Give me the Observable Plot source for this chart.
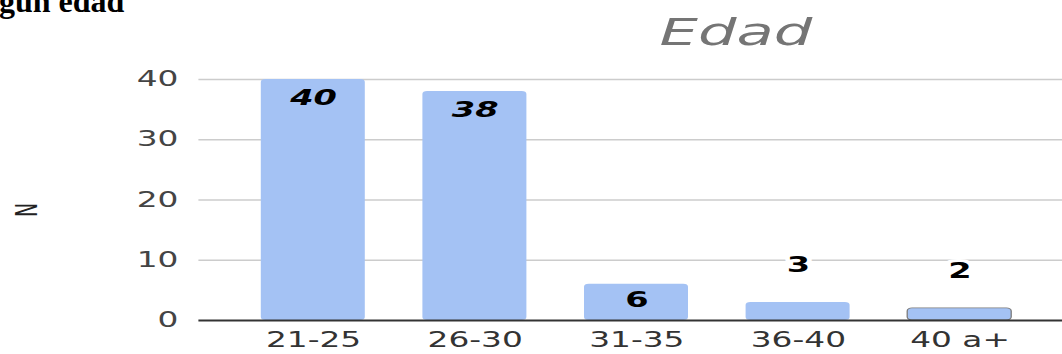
<!DOCTYPE html>
<html>
<head>
<meta charset="utf-8">
<script src="https://cdn.jsdelivr.net/npm/d3@7"></script>
<script src="https://cdn.jsdelivr.net/npm/@observablehq/plot@0.6"></script>
<style>
  html, body { margin: 0; padding: 0; background: #fff; }
  #frame { position: relative; width: 1062px; height: 354px; overflow: hidden; }
  /* the chart is laid out at a narrower width and stretched horizontally */
  #wide { position: absolute; left: 0; top: 0; width: 664px; height: 354px;
          transform: scaleX(1.6); transform-origin: 0 0; }
  #heading { position: absolute; left: -33px; top: -15px; white-space: nowrap;
             font: bold 32px/32px "Liberation Serif", "Times New Roman", serif; color: #000; }
  #title { position: absolute; left: 360px; width: 200px; top: 13px; text-align: center;
           font: oblique 38px/38px "DejaVu Sans", sans-serif; color: #757575; }
  #chart { position: absolute; left: 0; top: 60px; }
</style>
</head>
<body>
<div id="frame">
  <div id="heading">Según edad</div>
  <div id="wide">
    <div id="title">Edad</div>
    <div id="chart"></div>
  </div>
</div>
<script>
// Age groups and number of respondents in each
const grupos = ["21-25", "26-30", "31-35", "36-40", "40 a+"];
const conteos = [40, 38, 6, 3, 2];
const ticksY = [0, 10, 20, 30, 40];

const datos = grupos.map((g, i) => ({edad: g, n: conteos[i]}));
const barColor = "#a4c2f4";
const font = "DejaVu Sans, sans-serif";

const chart = Plot.plot({
  width: 664,
  height: 294,
  marginLeft: 124,
  marginRight: 0,
  marginTop: 19,
  marginBottom: 34,
  style: {fontFamily: font, background: "transparent", overflow: "visible"},
  x: {domain: grupos, range: [124, 670.6], paddingInner: 0.356, paddingOuter: 0.36, label: null},
  y: {domain: [0, 40], label: null},
  marks: [
    Plot.ruleY(ticksY.filter(t => t > 0), {stroke: "#cccccc", strokeWidth: 1.5}),
    Plot.barY(datos, {x: "edad", y: "n", fill: barColor, rx: 3}),
    Plot.barY(datos.filter(d => d.edad === "40 a+"), {x: "edad", y: "n", fill: "none", stroke: "#7a7a7a", strokeWidth: 0.8, rx: 3}),
    Plot.ruleY([0], {stroke: "#333", strokeWidth: 2}),
    Plot.axisY({ticks: ticksY, tickSize: 0, tickPadding: 13, fontSize: 20.5, color: "#444", label: null}),
    Plot.axisX({tickSize: 0, tickPadding: 12, fontSize: 20.5, color: "#333", label: null}),
    // values inside the tall bars
    Plot.text(datos.filter(d => d.n >= 10), {x: "edad", y: "n", text: d => String(d.n), dy: 19,
      fontSize: 21, fontWeight: "bold", fontStyle: "italic", fill: "#000"}),
    Plot.text(datos.filter(d => d.n >= 5 && d.n < 10), {x: "edad", y: "n", text: d => String(d.n), dy: 16,
      fontSize: 21, fontWeight: "bold", fill: "#000"}),
    // values floating above the short bars
    Plot.text(datos.filter(d => d.n < 5), {x: "edad", y: "n", text: d => String(d.n), dy: -37,
      fontSize: 21, fontWeight: "bold", fill: "#000", stroke: "#fff", strokeWidth: 6}),
    // axis name
    Plot.text(["N"], {frameAnchor: "left", dx: -107.75, dy: 17, rotate: -90, fontSize: 19, fill: "#222"})
  ]
});
document.getElementById("chart").appendChild(chart);
</script>
</body>
</html>
